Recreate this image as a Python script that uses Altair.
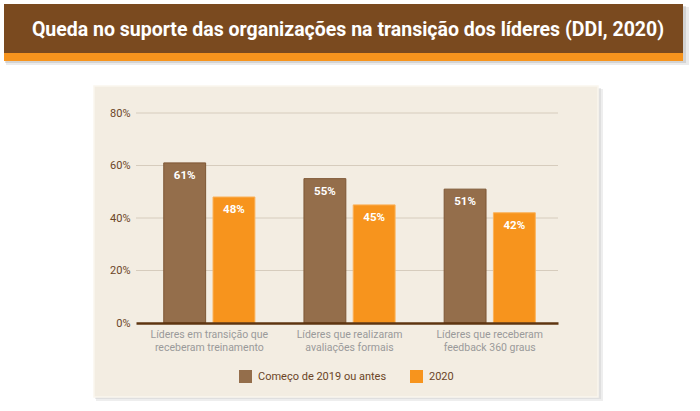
import altair as alt
import pandas as pd

title_text = "Queda no suporte das organizações na transição dos líderes (DDI, 2020)"
categories = [
    "Líderes em transição que\nreceberam treinamento",
    "Líderes que realizaram\navaliações formais",
    "Líderes que receberam\nfeedback 360 graus",
]
series = ["Começo de 2019 ou antes", "2020"]
values_2019 = [61, 55, 51]
values_2020 = [48, 45, 42]
y_ticks = [0, 20, 40, 60, 80]

rows = []
for c, a, b in zip(categories, values_2019, values_2020):
    rows.append({"cat": c, "serie": series[0], "valor": a})
    rows.append({"cat": c, "serie": series[1], "valor": b})
df = pd.DataFrame(rows)

BROWN_BAR = "#946e4b"
ORANGE = "#f7941d"
BANNER = "#7a4a1f"
PANEL = "#f3ede2"
TEXT_BROWN = "#6b4527"
FONT = "Roboto"

one = alt.Data(values=[{}])

def deco_rect(x, x2, y, y2, color, opacity=1.0, stroke=None):
    kw = dict(color=color, opacity=opacity)
    if stroke:
        kw.update(stroke=stroke, strokeWidth=1.5)
    return alt.Chart(one).mark_rect(**kw).encode(
        x=alt.value(x), x2=alt.value(x2), y=alt.value(y), y2=alt.value(y2)
    )

# plot origin is at (136, 113) in the page
banner_shadow1 = deco_rect(-130, 553, -106, -48, "#b0b0b0", 0.25)
banner_shadow2 = deco_rect(-131, 550, -107, -50, "#9a9a9a", 0.3)
banner = deco_rect(-132, 547, -109, -60, BANNER)
stripe = deco_rect(-132, 547, -60, -52, ORANGE)
title = alt.Chart(alt.Data(values=[{"t": title_text}])).mark_text(
    font=FONT, fontWeight="bold", fontSize=19.5, color="white",
    align="center", baseline="middle"
).encode(x=alt.value(348 - 136), y=alt.value(30 - 113), text="t:N")

panel_shadow1 = deco_rect(-40, 467, -24, 288, "#c8c8c8", 0.3)
panel_shadow2 = deco_rect(-41, 465, -25, 286, "#bdbdbd", 0.3)
panel = deco_rect(-42, 462, -27, 284, PANEL, stroke="#faf6ee")

xscale = alt.Scale(domain=categories, paddingInner=0.35, paddingOuter=0.18, align=0.55)
yscale = alt.Scale(domain=[0, 80])

yaxis = alt.Axis(values=y_ticks, labelExpr="datum.value + '%'", grid=False,
                 domain=False, ticks=False, labelColor=TEXT_BROWN,
                 labelFontSize=11, labelFont=FONT, labelPadding=6, zindex=1)

grid = alt.Chart(pd.DataFrame({"v": y_ticks[1:]})).mark_rule(
    color="#d6ccbd", strokeWidth=1
).encode(y=alt.Y("v:Q", scale=yscale, axis=yaxis, title=None))

bars = alt.Chart(df).mark_bar(strokeWidth=1).encode(
    x=alt.X("cat:N", scale=xscale, sort=categories, title=None,
            axis=alt.Axis(labelExpr="split(datum.label, '\\n')", labelAngle=0,
                          labelColor="#9a9a9a", labelFontSize=10.5, labelFont=FONT,
                          labelLineHeight=13.5, labelPadding=6, ticks=False,
                          domainColor="#5e3510", domainWidth=2.5, zindex=1)),
    xOffset=alt.XOffset("serie:N", sort=series, scale=alt.Scale(paddingInner=0.15)),
    y=alt.Y("valor:Q", scale=yscale, title=None, axis=yaxis),
    color=alt.Color("serie:N", sort=series,
                    scale=alt.Scale(domain=series, range=[BROWN_BAR, ORANGE]),
                    legend=alt.Legend(title=None, orient="none", direction="horizontal",
                                      legendX=103, legendY=257, symbolType="square",
                                      symbolSize=169, symbolStrokeWidth=0,
                                      symbolOpacity=1,
                                      labelColor=TEXT_BROWN, labelFontSize=11,
                                      labelFont=FONT, columnPadding=23, labelOffset=6)),
    stroke=alt.Stroke("serie:N", sort=series,
                      scale=alt.Scale(domain=series, range=["#7d5634", "#fbb25a"]),
                      legend=None),
)

labels = alt.Chart(df).mark_text(
    color="white", fontWeight="bold", fontSize=11.5, font=FONT, baseline="middle", dy=13
).encode(
    x=alt.X("cat:N", scale=xscale, sort=categories),
    xOffset=alt.XOffset("serie:N", sort=series),
    y=alt.Y("valor:Q", scale=yscale),
    text=alt.Text("label:N"),
).transform_calculate(label="datum.valor + '%'")

chart = alt.layer(
    banner_shadow1, banner_shadow2, banner, stripe, title,
    panel_shadow1, panel_shadow2, panel, grid, bars, labels
).properties(
    width=422, height=210,
    autosize=alt.AutoSizeParams(type="none"),
    padding={"left": 136, "top": 113, "right": 142, "bottom": 88},
    background="white",
).configure_view(stroke=None)

chart.save("out.html", embed_options={"renderer": "svg", "actions": False})
